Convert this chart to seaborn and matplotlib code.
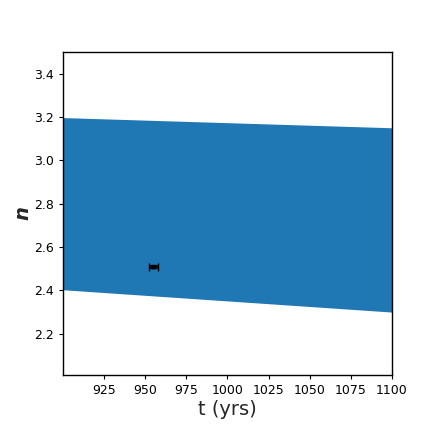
import matplotlib
matplotlib.use("Agg")
import matplotlib.pyplot as plt
import seaborn as sns

# band limits for n over time
t_edges = [900, 1100]
n_upper = [3.197, 3.150]
n_lower = [2.403, 2.300]

# measured point
t_obs = [955]
n_obs = [2.51]
t_err = [3]
n_err = [0.008]

sns.set_style("ticks")
plt.rcParams['font.family'] = ['DejaVu Sans']

fig = plt.figure(figsize=(4.36, 4.36), dpi=100)
ax = fig.add_axes([0.1445, 0.14, 0.7545, 0.741])

ax.fill_between(t_edges, n_lower, n_upper, color="#1f77b4", linewidth=0)
ax.errorbar(t_obs, n_obs, xerr=t_err, yerr=n_err, fmt="o", color="black",
            markersize=2, capsize=3, elinewidth=1.2)

ax.set_xlim(900, 1100)
ax.set_ylim(2.01, 3.5)
ax.set_xticks([925, 950, 975, 1000, 1025, 1050, 1075, 1100])
ax.set_yticks([2.2, 2.4, 2.6, 2.8, 3.0, 3.2, 3.4])
ax.tick_params(labelsize=9, length=3, colors="black")
ax.set_xlabel("t (yrs)", fontsize=14, labelpad=2)
ax.set_ylabel("n", fontsize=14, fontweight="bold", fontstyle="italic", labelpad=1)
for s in ax.spines.values():
    s.set_color("black")
    s.set_linewidth(1)

fig.savefig("out.png", dpi=100)
